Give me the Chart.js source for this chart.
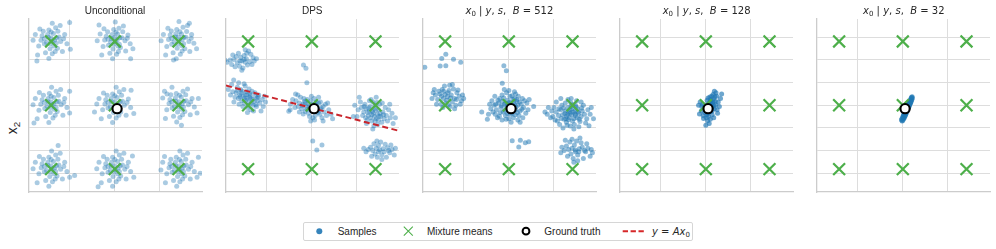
<!DOCTYPE html>
<html><head><meta charset="utf-8">
<script src="https://cdn.jsdelivr.net/npm/chart.js@4.4.1/dist/chart.umd.min.js"></script>
<style>
body{margin:0;background:#fff;width:996px;height:249px;overflow:hidden;position:relative;font-family:"Liberation Sans",Arial,sans-serif;color:#262626}
.panel{position:absolute;top:15px;width:181px;height:181px}
.title{position:absolute;top:4.5px;width:173px;text-align:center;font-size:10px;line-height:12px;white-space:nowrap}
.m{font-family:"DejaVu Sans";font-size:10px}
.mi{font-family:"DejaVu Sans";font-style:italic}
sub{font-size:70%;vertical-align:-2px;line-height:0}
#legend{position:absolute;left:303px;top:222px;width:390px;height:19px;border:1px solid #d6d6d6;border-radius:2px;background:#fff;box-sizing:border-box;font-size:10px;z-index:5}
#legend span.t{position:absolute;top:0;line-height:17px;white-space:nowrap}
#legend svg{position:absolute;top:0;left:0}
#ylab{position:absolute;left:12px;top:128px;transform:translate(-50%,-50%) rotate(-90deg);font-size:14px;white-space:nowrap}
#ylab sub{vertical-align:-3px}
#xlab{position:absolute;left:498px;top:224px;transform:translateX(-50%);font-size:14px;white-space:nowrap;z-index:1}
</style></head>
<body>
<div id="ylab">x<sub>2</sub></div>
<div id="xlab">x<sub>1</sub></div>
<div id="legend">
<svg width="390" height="19">
<circle cx="15.3" cy="8.2" r="3" fill="rgba(31,119,180,0.9)"/>
<path d="M99.8 3.7 L108.8 12.7 M108.8 3.7 L99.8 12.7" stroke="#4daf4a" stroke-width="1.1" fill="none"/>
<circle cx="222" cy="8.2" r="3.4" fill="#fff" stroke="#000" stroke-width="2"/>
<line x1="318.7" y1="8.2" x2="340" y2="8.2" stroke="#d62728" stroke-width="2" stroke-dasharray="5.3 2.6"/>
</svg>
<span class="t" style="left:33.7px">Samples</span>
<span class="t" style="left:123px">Mixture means</span>
<span class="t" style="left:240.3px">Ground truth</span>
<span class="t m" style="left:348px"><span class="mi">y</span> = <span class="mi">Ax</span><sub>0</sub></span>
</div>
<script>
const X_RANGE = [-3.80, 3.86];
const Y_RANGE = [-3.83, 3.81];
const X_TICKS = [-2, 0, 2];
const Y_TICKS = [-3, -2, -1, 0, 1, 2, 3];
const PANEL_LEFTS = [28.5, 225.7, 422.9, 620.1, 817.3];
const TITLES = ['Unconditional', 'DPS', 'B = 512', 'B = 128', 'B = 32'];
const MIXTURE_MEANS = [[-2.82,2.82],[0,2.82],[2.82,2.82],[-2.82,0],[0,0],[2.82,0],[-2.82,-2.82],[0,-2.82],[2.82,-2.82]];
const GROUND_TRUTH = [0.10, -0.15];
const LINE_Y_AX = [[-3.80, 0.87], [3.86, -1.13]];

const SAMPLES_UNCONDITIONAL = [
[-2.77,2.84],[-2.94,3.00],[-2.60,2.74],[-3.12,2.72],[-2.72,3.17],[-2.47,3.02],[-2.87,2.50],[-2.54,2.52],[-3.22,3.07],[-2.67,2.87],[-3.02,2.77],[-2.40,2.82],[-2.92,3.32],[-2.77,2.27],[-3.37,2.62],[-2.22,3.12],[-2.62,3.42],[-3.17,3.27],[-2.32,2.37],[-3.07,2.32],[-2.82,2.97],[-2.97,3.12],[-2.52,3.27],[-2.70,2.62],[-3.27,2.87],[-2.12,2.72],[-3.52,3.12],[-2.77,3.62],[-2.92,2.07],[-1.97,2.47],[-3.42,2.22],[-2.42,3.52],[-3.62,2.87],[-2.57,2.97],[-2.87,2.72],[-2.64,2.37],[-3.12,2.94],[-2.27,2.94],[-3.32,3.37],[-2.82,3.24],[-3.45,1.95],[-2.00,3.65],
[0.03,2.80],[-0.15,2.95],[0.20,2.70],[-0.28,2.65],[0.12,3.15],[0.32,2.98],[-0.08,2.48],[0.25,2.55],[-0.38,3.05],[0.10,2.88],[-0.18,2.78],[0.45,2.85],[-0.05,3.35],[0.08,2.25],[-0.52,2.60],[0.58,3.10],[0.18,3.40],[-0.32,3.25],[0.48,2.40],[-0.22,2.30],[0.00,3.00],[-0.12,3.12],[0.35,3.25],[0.14,2.62],[-0.45,2.88],[0.68,2.72],[-0.65,3.15],[0.02,3.68],[-0.10,2.05],[0.80,2.50],[-0.58,2.22],[0.38,3.50],[-0.78,2.85],[0.22,2.98],[-0.04,2.70],[0.16,2.38],[-0.30,2.92],[0.55,2.96],[-0.48,3.38],[0.05,3.22],[0.70,2.05],[-0.70,3.55],
[2.85,2.86],[2.68,3.02],[3.05,2.72],[2.52,2.70],[2.95,3.15],[3.15,3.00],[2.76,2.52],[3.10,2.50],[2.45,3.10],[2.98,2.90],[2.62,2.80],[3.28,2.82],[2.74,3.35],[2.90,2.25],[2.30,2.60],[3.40,3.12],[3.02,3.45],[2.50,3.28],[3.32,2.38],[2.58,2.32],[2.82,3.02],[2.70,3.15],[3.18,3.26],[2.96,2.64],[2.38,2.90],[3.50,2.74],[2.15,3.12],[2.84,3.70],[2.72,2.05],[3.62,2.50],[2.25,2.22],[3.22,3.52],[2.05,2.85],[3.06,3.00],[2.78,2.72],[2.98,2.40],[2.52,2.95],[3.38,2.96],[2.35,3.40],[2.88,3.25],[3.30,3.62],[2.60,2.00],
[-2.78,0.02],[-2.96,0.16],[-2.60,-0.10],[-3.10,-0.14],[-2.70,0.34],[-2.48,0.18],[-2.86,-0.32],[-2.55,-0.28],[-3.22,0.24],[-2.70,0.06],[-3.00,-0.04],[-2.38,0.02],[-2.90,0.52],[-2.74,-0.56],[-3.36,-0.22],[-2.22,0.30],[-2.60,0.62],[-3.16,0.44],[-2.30,-0.44],[-3.06,-0.50],[-2.82,0.14],[-2.95,0.30],[-2.50,0.44],[-2.68,-0.18],[-3.28,0.04],[-2.12,-0.10],[-3.52,0.30],[-2.80,0.80],[-2.92,-0.76],[-2.00,-0.34],[-3.44,-0.60],[-2.40,0.70],[-3.62,0.02],[-2.56,0.14],[-2.86,-0.10],[-2.64,-0.44],[-3.12,0.12],[-2.26,0.12],[-3.34,0.56],[-2.82,0.40],[-2.00,0.62],[-3.58,-0.78],
[0.04,0.00],[-0.14,0.16],[0.20,-0.10],[-0.30,-0.12],[0.10,0.34],[0.34,0.18],[-0.06,-0.32],[0.26,-0.30],[-0.40,0.24],[0.14,0.04],[-0.20,-0.06],[0.42,0.00],[-0.10,0.50],[0.06,-0.56],[-0.54,-0.20],[0.60,0.28],[0.20,0.60],[-0.34,0.44],[0.50,-0.44],[-0.24,-0.50],[0.00,0.14],[-0.16,0.30],[0.30,0.44],[0.12,-0.20],[-0.44,0.06],[0.70,-0.10],[-0.70,0.30],[0.06,0.80],[-0.10,-0.76],[0.84,-0.36],[-0.60,-0.60],[0.40,0.70],[-0.80,0.06],[0.24,0.16],[-0.04,-0.10],[0.18,-0.44],[-0.30,0.12],[0.54,0.12],[-0.50,0.54],[0.00,0.42],[-0.90,-0.30],[0.72,0.66],
[2.86,0.02],[2.70,0.18],[3.04,-0.08],[2.54,-0.12],[2.94,0.36],[3.16,0.20],[2.78,-0.30],[3.10,-0.28],[2.44,0.26],[2.98,0.06],[2.64,-0.04],[3.26,0.02],[2.72,0.52],[2.88,-0.54],[2.30,-0.20],[3.42,0.30],[3.02,0.62],[2.48,0.46],[3.34,-0.42],[2.60,-0.48],[2.84,0.16],[2.68,0.32],[3.14,0.46],[2.96,-0.18],[2.40,0.08],[3.52,-0.08],[2.12,0.32],[2.53,0.80],[2.74,-0.74],[3.64,-0.34],[2.24,-0.58],[3.22,0.72],[2.31,0.50],[3.06,0.18],[2.80,-0.08],[3.00,-0.42],[2.52,0.14],[3.36,0.14],[2.20,0.62],[2.86,0.44],[3.70,0.30],[2.95,-0.88],
[-2.78,-2.80],[-2.96,-2.66],[-2.62,-2.92],[-3.12,-2.94],[-2.72,-2.48],[-2.48,-2.64],[-2.88,-3.14],[-2.56,-3.12],[-3.22,-2.58],[-2.68,-2.78],[-3.02,-2.88],[-2.40,-2.82],[-2.92,-2.30],[-2.76,-3.38],[-3.36,-3.02],[-2.22,-2.52],[-2.62,-2.20],[-3.16,-2.38],[-2.32,-3.26],[-3.06,-3.32],[-2.82,-2.68],[-2.96,-2.52],[-2.52,-2.38],[-2.70,-3.02],[-3.26,-2.76],[-2.12,-2.92],[-3.52,-2.52],[-2.80,-2.02],[-2.92,-3.58],[-2.00,-3.18],[-3.44,-3.42],[-2.42,-2.12],[-3.62,-2.80],[-2.58,-2.68],[-2.86,-2.92],[-2.64,-3.26],[-3.12,-2.70],[-2.26,-2.70],[-3.34,-2.26],[-2.82,-2.40],[-2.51,-1.78],[-1.78,-3.10],
[0.02,-2.84],[-0.16,-2.68],[0.20,-2.92],[-0.30,-2.96],[0.12,-2.48],[0.34,-2.64],[-0.08,-3.14],[0.26,-3.12],[-0.40,-2.58],[0.14,-2.78],[-0.20,-2.88],[0.44,-2.82],[-0.10,-2.30],[0.06,-3.38],[-0.56,-3.02],[0.60,-2.52],[0.20,-2.20],[-0.34,-2.38],[0.50,-3.26],[-0.24,-3.32],[0.00,-2.68],[-0.14,-2.52],[0.30,-2.38],[0.12,-3.02],[-0.44,-2.76],[0.70,-2.92],[-0.70,-2.52],[0.06,-2.02],[-0.10,-3.58],[0.84,-3.18],[-0.60,-3.42],[0.40,-2.12],[-0.80,-2.80],[0.24,-2.68],[-0.04,-2.92],[0.18,-3.26],[-0.30,-2.70],[0.54,-2.70],[-0.50,-2.26],[0.00,-2.40],[-0.74,-3.60],[0.78,-2.24],
[2.86,-2.84],[2.70,-2.68],[3.04,-2.92],[2.54,-2.96],[2.94,-2.48],[3.16,-2.64],[2.78,-3.14],[3.10,-3.12],[2.44,-2.58],[2.98,-2.78],[2.64,-2.88],[3.26,-2.82],[2.72,-2.30],[2.88,-3.38],[2.30,-3.02],[3.42,-2.52],[3.02,-2.20],[2.48,-2.38],[3.34,-3.26],[2.60,-3.32],[2.84,-2.68],[2.68,-2.52],[3.14,-2.38],[2.96,-3.02],[2.40,-2.76],[3.52,-2.92],[2.12,-2.52],[2.88,-2.02],[2.74,-3.58],[3.64,-3.18],[2.24,-3.42],[3.22,-2.12],[2.04,-2.86],[3.06,-2.68],[2.80,-2.92],[3.00,-3.26],[2.52,-2.70],[3.36,-2.70],[2.20,-2.26],[2.86,-2.40],[3.78,-3.00],[3.70,-2.30]
];

const SAMPLES_DPS = [
[-3.10,1.95],[-2.90,2.05],[-3.30,1.88],[-2.75,1.92],[-3.45,2.02],[-3.00,2.20],[-3.20,1.72],[-2.60,2.10],[-3.55,1.80],[-2.85,1.78],[-3.15,2.12],[-2.95,1.90],[-3.35,2.15],[-2.70,2.25],[-3.62,2.00],[-3.05,1.65],[-2.55,1.95],[-3.25,2.30],[-2.80,2.40],[-3.75,1.90],[-3.40,1.70],[-2.65,1.80],[-3.00,2.02],[-3.18,1.96],[-2.45,2.05],[-3.50,2.22],[-2.88,2.30],[-3.10,1.55],[-3.85,2.00],[-2.95,2.45],
[-2.87,0.31],[-2.70,0.30],[-3.05,0.40],[-2.55,0.18],[-3.20,0.45],[-2.75,0.52],[-3.00,0.10],[-2.40,0.20],[-3.35,0.55],[-2.90,0.60],[-2.60,0.00],[-3.10,0.20],[-2.80,0.15],[-2.95,0.45],[-2.50,0.40],[-3.25,0.30],[-2.65,0.62],[-3.15,0.70],[-2.45,-0.05],[-2.85,-0.10],[-3.40,0.35],[-2.30,0.10],[-3.50,0.60],[-2.20,0.25],[-2.70,-0.20],[-3.05,-0.05],[-3.30,0.80],[-2.35,0.45],[-2.95,0.85],[-2.15,-0.05],[-3.60,0.45],[-2.75,0.35],[-2.98,0.30],[-2.62,0.25],[-3.12,0.55],[-2.52,0.55],[-2.82,0.00],[-3.22,0.05],[-2.42,0.32],[-2.78,0.72],[-3.45,0.15],[-2.05,0.15],[-3.70,0.70],[-2.58,-0.25],[-3.00,0.95],[-2.25,-0.25],[-3.46,1.12],[-3.24,1.00],[-2.88,0.48],[-2.68,0.10],[-3.08,0.62],[-2.48,0.02],[-2.92,0.22],[-3.30,0.65],[-2.72,0.44],[-3.18,0.38],[-2.38,0.38],[-2.10,0.40],[-3.55,0.92],[-2.85,-0.32],
[-0.08,-0.13],[0.10,-0.18],[-0.25,-0.05],[0.25,-0.25],[-0.40,0.05],[0.05,0.05],[-0.15,-0.35],[0.40,-0.20],[-0.55,0.10],[0.20,0.02],[-0.30,-0.28],[0.35,-0.40],[-0.05,0.20],[0.15,-0.45],[-0.45,-0.15],[0.55,-0.30],[-0.20,0.25],[0.30,0.10],[-0.60,-0.05],[0.05,-0.55],[-0.35,0.30],[0.50,-0.05],[-0.70,0.20],[0.65,-0.45],[-0.12,-0.05],[0.00,-0.25],[-0.28,0.12],[0.22,-0.10],[-0.50,0.35],[0.45,-0.55],[-0.75,-0.10],[0.75,-0.20],[0.10,0.30],[-0.10,-0.50],[-0.85,0.25],[0.85,-0.40],[-0.38,-0.38],[0.38,0.15],[-0.02,0.40],[0.12,-0.65],[-0.62,0.45],[0.60,0.05],[-0.18,0.08],[0.28,-0.32],[-0.42,-0.02],[0.08,-0.08],[-0.22,-0.18],[0.18,0.15],[-0.32,0.18],[0.42,-0.12],[-0.95,0.05],[0.92,-0.60],[-0.55,-0.30],[0.50,-0.70],[-0.05,-0.70],[0.70,0.10],[-0.72,0.50],[0.30,0.35],
[-0.37,1.78],[-0.26,1.63],[-0.22,1.00],[0.04,-1.58],[0.45,-1.75],[0.22,-1.97],[-0.96,-0.20],[-1.02,-0.26],
[2.72,-0.35],[2.90,-0.40],[2.55,-0.25],[3.05,-0.50],[2.40,-0.15],[2.75,-0.15],[2.60,-0.55],[3.15,-0.30],[2.30,-0.30],[2.95,-0.20],[2.50,-0.45],[3.20,-0.60],[2.80,0.00],[2.65,-0.70],[2.35,0.05],[3.30,-0.45],[2.85,-0.60],[2.45,-0.65],[3.00,0.05],[2.20,-0.10],[3.40,-0.20],[2.70,0.15],[2.58,-0.05],[3.10,-0.75],[2.25,-0.45],[2.92,-0.85],[3.35,-0.70],[2.15,0.15],[2.62,0.25],[3.48,-0.55],[2.78,-0.50],[2.68,-0.28],[2.82,-0.22],[3.02,-0.35],[2.48,-0.32],[2.88,0.12],[2.38,-0.55],[3.25,-0.10],[2.05,-0.20],[3.55,-0.35],[2.75,-0.90],[2.55,0.20],[3.12,0.10],[2.95,-0.65],[2.42,-0.80],[2.10,0.35],[3.60,-0.80],[2.85,0.35],[2.00,-0.50],[3.45,0.05],[2.66,-0.42],[2.98,-0.48],[2.52,-0.12],[2.80,-0.70],[3.18,-0.42],[2.32,-0.05],[1.90,0.00],[1.84,-0.50],[3.70,-0.55],[2.70,-1.05],
[3.01,-1.97],[2.85,-1.90],[3.20,-2.05],[2.70,-2.00],[3.35,-1.88],[2.95,-1.78],[3.10,-2.18],[2.60,-1.85],[3.45,-2.10],[2.80,-2.15],[3.25,-1.72],[2.50,-1.95],[3.55,-1.95],[2.90,-2.30],[3.05,-1.62],[2.40,-2.05],[3.65,-2.20],[3.15,-1.92],[2.75,-1.70],[3.30,-2.30],[2.65,-2.25],[3.50,-1.75],[2.95,-2.05],[3.70,-1.90],[2.30,-1.90],[3.10,-2.40],[2.88,-1.58],[3.40,-2.00]
];

const SAMPLES_B512 = [
[-3.72,1.68],[-3.04,1.73],[-2.79,1.75],[-2.97,2.07],[-2.79,2.25],[-2.45,2.03],[-2.13,1.90],
[-2.72,0.38],[-2.55,0.45],[-2.90,0.30],[-2.40,0.30],[-3.05,0.50],[-2.65,0.65],[-2.80,0.10],[-2.30,0.55],[-3.15,0.25],[-2.50,0.15],[-2.95,0.70],[-2.20,0.40],[-3.25,0.45],[-2.60,-0.05],[-2.85,0.85],[-2.35,0.00],[-3.00,0.05],[-2.10,0.20],[-3.30,0.70],[-2.70,0.55],[-2.45,0.72],[-2.75,0.22],[-2.58,0.32],[-3.10,0.62],[-2.25,0.68],[-2.92,-0.10],[-3.40,0.30],[-2.05,0.45],[-2.62,0.88],[-2.40,-0.15],[-2.82,0.48],[-3.20,0.05],[-2.15,0.05],[-2.98,0.40],[-2.50,0.92],[-2.68,0.02],[-3.35,0.55],[-2.00,0.30],[-2.88,0.62],[-2.32,0.25],
[0.07,-0.09],[0.20,-0.05],[-0.10,-0.12],[0.30,-0.20],[-0.20,0.05],[0.10,0.10],[0.00,-0.28],[0.40,0.00],[-0.35,-0.10],[0.15,-0.35],[-0.05,0.22],[0.35,0.18],[-0.25,-0.30],[0.50,-0.25],[-0.45,0.10],[0.25,0.30],[-0.15,-0.45],[0.55,0.05],[-0.55,-0.20],[0.05,0.40],[0.45,-0.45],[-0.40,0.30],[0.65,-0.10],[-0.65,0.00],[0.20,-0.55],[-0.30,0.45],[0.60,0.30],[-0.60,-0.40],[0.00,-0.60],[0.30,0.50],[-0.75,0.20],[0.75,-0.35],[-0.10,0.55],[0.40,-0.65],[-0.50,-0.55],[0.80,0.10],[-0.80,-0.15],[0.12,-0.18],[-0.02,0.02],[0.22,0.12],[-0.18,-0.22],[0.32,-0.08],[-0.28,0.18],[0.08,-0.40],[0.18,0.25],[-0.08,-0.02],[0.38,-0.32],[-0.38,-0.32],[0.48,0.15],[-0.48,0.22],[0.02,0.12],[0.28,-0.42],[-0.22,0.32],[0.58,-0.18],[-0.58,0.05],[0.14,0.42],[-0.12,-0.62],[0.70,0.20],[-0.70,-0.30],[0.42,0.40],[-0.42,-0.48],[0.85,-0.20],[-0.85,0.05],[0.10,-0.75],[0.00,0.65],[0.62,-0.55],[-0.62,0.40],[0.25,0.60],[-0.30,-0.65],[0.90,0.25],[-0.90,-0.40],[0.50,-0.75],[-0.20,0.70],[0.05,-0.05],[0.26,0.02],[-0.14,0.10],[0.16,-0.26],[-0.32,-0.02],[0.36,0.26],[-0.06,-0.36],
[-0.22,1.74],[-0.11,1.53],[-0.29,0.97],[0.15,-1.57],[0.51,-1.54],[0.73,-1.65],[0.88,-1.61],[0.44,-1.84],[-1.20,-0.30],[-0.95,-0.62],[1.10,-0.05],
[2.72,-0.35],[2.85,-0.30],[2.60,-0.40],[2.95,-0.45],[2.50,-0.25],[2.80,-0.15],[2.68,-0.55],[3.10,-0.35],[2.38,-0.42],[2.88,-0.60],[2.62,-0.10],[3.05,-0.15],[2.45,-0.62],[3.20,-0.50],[2.30,-0.20],[2.95,0.00],[2.55,-0.75],[3.25,-0.25],[2.20,-0.45],[2.75,0.10],[3.15,-0.72],[2.35,0.00],[3.35,-0.40],[2.10,-0.30],[2.90,-0.85],[2.50,0.10],[3.30,0.00],[2.15,-0.70],[2.72,-0.92],[3.00,0.20],[2.00,-0.10],[3.45,-0.60],[2.62,0.25],[3.10,-0.95],[2.25,-0.85],[3.50,-0.20],[1.95,-0.50],[2.78,-0.42],[2.66,-0.30],[2.92,-0.25],[2.56,-0.48],[3.02,-0.55],[2.42,-0.12],[2.82,-0.70],[2.98,-0.08],[2.70,-0.20],[3.12,-0.62],[2.32,-0.58],[3.22,-0.12],[2.22,-0.15],[2.84,0.02],[2.58,-0.88],[3.40,-0.78],[2.05,-0.65],[3.60,-0.40],[1.90,-0.25],[2.76,0.30],[3.20,0.15],[2.40,-1.00],[3.55,-0.90],[2.10,0.15],[3.65,-0.10],[1.85,-0.55],[2.88,-1.05],[2.64,-0.64],[2.94,-0.38],[2.48,-0.36],[2.76,-0.05],[3.06,-0.30],[2.52,-0.60],[1.70,-0.40],[1.60,-0.30],[1.75,-0.10],[3.75,-0.60],[2.30,0.30],
[2.94,-1.97],[2.80,-1.90],[3.10,-2.05],[2.65,-1.95],[3.25,-1.85],[2.90,-1.75],[3.05,-2.20],[2.55,-1.80],[3.40,-2.05],[2.75,-2.15],[3.20,-1.65],[2.45,-2.00],[3.50,-1.90],[2.85,-2.35],[3.00,-1.58],[2.35,-1.85],[3.60,-2.25],[3.12,-1.92],[2.70,-1.62],[3.30,-2.35],[2.60,-2.25],[3.45,-1.70],[2.95,-2.05],[3.65,-1.95],[2.30,-2.10],[3.05,-2.45],[2.80,-1.50],[3.35,-2.00],[2.50,-1.55],[3.15,-1.45],[3.70,-2.10],[2.88,-2.52]
];

const SAMPLES_B128 = [
[0.16,-0.12],[0.26,-0.05],[0.05,-0.18],[0.30,0.10],[0.00,0.00],[0.20,0.18],[0.10,-0.35],[0.38,-0.15],[-0.08,-0.10],[0.22,-0.28],[0.12,0.08],[0.34,0.28],[-0.05,-0.32],[0.44,0.02],[-0.15,0.05],[0.28,-0.42],[0.06,0.22],[0.40,0.38],[-0.12,-0.45],[0.50,-0.20],[0.18,0.36],[0.02,-0.55],[0.32,0.48],[-0.20,-0.25],[0.55,0.15],[0.08,-0.68],[0.45,0.55],[-0.25,0.15],[0.60,-0.05],[0.15,-0.80],[0.24,0.05],[0.14,-0.22],[0.08,-0.02],[0.28,-0.25],[0.18,0.00],[0.36,-0.02],[0.04,-0.42],[0.22,0.25],[-0.02,-0.22],[0.42,0.18],[0.12,-0.50],[0.30,-0.08],[-0.10,-0.58],[0.48,0.40],[0.20,-0.62],[0.26,0.40],[-0.18,-0.05],[0.52,-0.35],[0.10,0.32],[0.38,0.62],[-0.28,-0.38],[0.65,0.30],[0.00,-0.88],[0.70,0.50],[-0.32,0.00],[0.35,-0.55],[0.20,0.12],[0.10,-0.10],[0.32,0.16],[0.06,-0.30]
];

const SAMPLES_B32 = [
[-0.03,-0.70],[0.00,-0.66],[-0.06,-0.64],[0.03,-0.60],[-0.03,-0.58],[0.06,-0.56],[0.00,-0.52],[0.08,-0.50],[0.02,-0.47],[0.05,-0.52],[0.11,-0.45],[0.04,-0.42],[0.08,-0.40],[0.13,-0.40],[0.06,-0.36],[0.10,-0.38],[0.15,-0.34],[0.09,-0.30],[0.12,-0.32],[0.17,-0.28],[0.11,-0.25],[0.15,-0.27],[0.20,-0.23],[0.13,-0.20],[0.17,-0.21],[0.22,-0.17],[0.16,-0.15],[0.19,-0.16],[0.24,-0.12],[0.18,-0.09],[0.22,-0.10],[0.27,-0.06],[0.21,-0.03],[0.24,-0.05],[0.29,-0.01],[0.23,0.02],[0.26,0.00],[0.31,0.05],[0.25,0.07],[0.28,0.04],[0.34,0.10],[0.28,0.12],[0.31,0.11],[0.36,0.15],[0.30,0.17],[0.33,0.16],[0.38,0.21],[0.33,0.23],[0.40,0.26],[0.36,0.29],[0.42,0.32],[0.38,0.34],[0.41,0.38]
];

const PANEL_SAMPLES = [SAMPLES_UNCONDITIONAL, SAMPLES_DPS, SAMPLES_B512, SAMPLES_B128, SAMPLES_B32];
const SAMPLE_ALPHA = [0.38, 0.42, 0.5, 0.65, 0.7];

const toPts = arr => arr.map(p => ({x: p[0], y: p[1]}));

PANEL_LEFTS.forEach((left, i) => {
  const wrap = document.createElement('div');
  wrap.className = 'panel';
  wrap.style.left = (left - 4) + 'px';
  const cv = document.createElement('canvas');
  cv.width = 181; cv.height = 181;
  wrap.appendChild(cv);
  document.body.appendChild(wrap);

  const t = document.createElement('div');
  t.className = 'title';
  t.style.left = left + 'px';
  if (i < 2) { t.textContent = TITLES[i]; }
  else {
    const b = TITLES[i].split('=')[1].trim();
    t.className += ' m';
    t.innerHTML = '<span class="mi">x</span><sub>0</sub> | <span class="mi">y</span>, <span class="mi">s</span>,&nbsp; <span class="mi">B</span> = ' + b;
  }
  document.body.appendChild(t);

  const datasets = [
    {data: toPts([GROUND_TRUTH]), pointRadius: 4.6, pointBackgroundColor: '#fff', pointBorderColor: '#000', pointBorderWidth: 2.1, showLine: false},
  ];
  if (i === 1) datasets.push({data: toPts(LINE_Y_AX), showLine: true, borderColor: '#c9252c', borderWidth: 2, borderDash: [6, 3.5], pointRadius: 0, clip: 0, fill: false});
  datasets.push({data: toPts(MIXTURE_MEANS), pointStyle: 'crossRot', pointRadius: 8.4, pointBorderColor: '#4daf4a', pointBorderWidth: 2.2, showLine: false});
  datasets.push({data: toPts(PANEL_SAMPLES[i]), pointRadius: 2.5, pointBackgroundColor: 'rgba(31,119,180,' + SAMPLE_ALPHA[i] + ')', pointBorderWidth: 0, showLine: false, clip: 0});

  new Chart(cv, {
    type: 'scatter',
    data: {datasets},
    options: {
      responsive: false, animation: false, devicePixelRatio: 1, events: [],
      layout: {padding: 4, autoPadding: false},
      plugins: {legend: {display: false}, tooltip: {enabled: false}},
      scales: {
        x: {type: 'linear', min: X_RANGE[0], max: X_RANGE[1],
            afterBuildTicks: a => { a.ticks = X_TICKS.map(v => ({value: v})); },
            ticks: {display: false}, grid: {color: '#dddddd', lineWidth: 1, drawTicks: false},
            border: {display: true, color: '#cccccc', width: 1.3}},
        y: {type: 'linear', min: Y_RANGE[0], max: Y_RANGE[1],
            afterBuildTicks: a => { a.ticks = Y_TICKS.map(v => ({value: v})); },
            ticks: {display: false}, grid: {color: '#dddddd', lineWidth: 1, drawTicks: false},
            border: {display: true, color: '#cccccc', width: 1.3}}
      }
    }
  });
});
</script>
</body></html>
